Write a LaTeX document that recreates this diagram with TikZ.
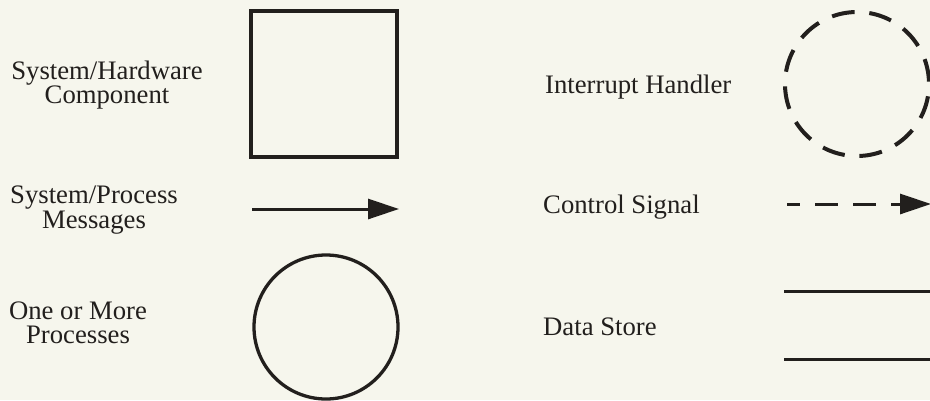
\documentclass[tikz,border=0pt]{standalone}
\usepackage{fontspec}
\setmainfont{Liberation Serif}
\usetikzlibrary{arrows.meta}
\definecolor{paper}{RGB}{246,246,237}
\definecolor{ink}{RGB}{34,31,29}
\tikzset{
  lbl/.style={inner sep=0pt, text=ink, font=\fontsize{26.7}{24.5}\selectfont},
  clbl/.style={lbl, align=center, anchor=base},
  rlbl/.style={lbl, anchor=base west},
  shape line/.style={draw=ink, line width=3.3pt},
  flow/.style={draw=ink, line width=3pt, -{Triangle[length=31pt,width=20pt]}},
  ctrl/.style={flow, dash pattern=on 23pt off 15pt, dash phase=10pt},
  store line/.style={draw=ink, line width=3pt},
}
\begin{document}
\begin{tikzpicture}[x=1pt, y=-1pt]
  \fill[paper] (0,0) rectangle (930,400);
  \useasboundingbox (0,0) rectangle (930,400);

  % left column: labels (anchored on the baseline of the last line)
  \node[clbl] (hwLabel) at (107,103.5) {System/Hardware\\Component};
  \node[clbl] (msgLabel) at (94,228) {System/Process\\Messages};
  \node[clbl] (procLabel) at (78,343.5) {One or More\\Processes};

  % left column: symbols
  \node[shape line, minimum width=146pt, minimum height=146pt, inner sep=0pt] (hwBox) at (324,84) {};
  \coordinate (msgFrom) at (252,209);
  \coordinate (msgTo) at (399,209);
  \draw[flow] (msgFrom) -- (msgTo);
  \node[shape line, circle, minimum size=144pt, inner sep=0pt] (procCircle) at (326,327) {};

  % right column: labels
  \node[rlbl] (intLabel) at (545,93) {Interrupt Handler};
  \node[rlbl] (ctrlLabel) at (543,213) {Control Signal};
  \node[rlbl] (storeLabel) at (543,335) {Data Store};

  % right column: symbols
  \draw[draw=ink, line width=4pt, dash pattern=on 23pt off 14.7pt, dash phase=25.35pt]
    (857,84) circle[radius=72];
  \coordinate (ctrlFrom) at (787,204);
  \coordinate (ctrlTo) at (931,204);
  \draw[ctrl] (ctrlFrom) -- (ctrlTo);
  \coordinate (storeTopA) at (784,291);
  \coordinate (storeTopB) at (930,291);
  \coordinate (storeBotA) at (784,359);
  \coordinate (storeBotB) at (930,359);
  \draw[store line] (storeTopA) -- (storeTopB);
  \draw[store line] (storeBotA) -- (storeBotB);
\end{tikzpicture}
\end{document}
